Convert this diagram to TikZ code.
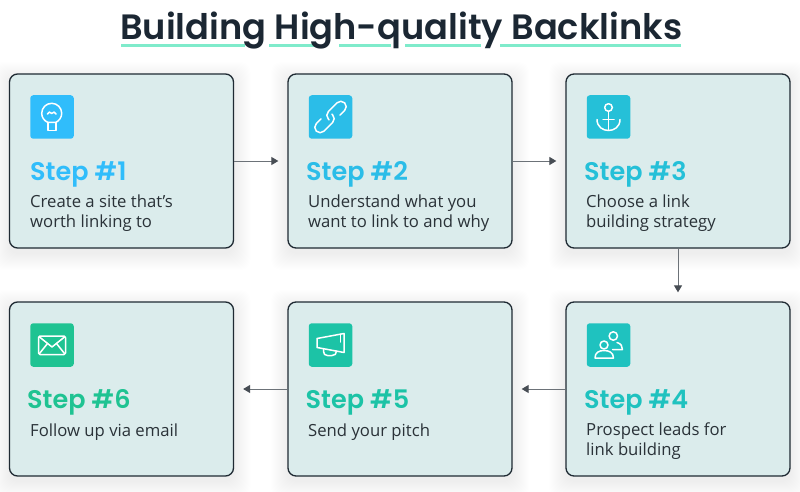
\documentclass[tikz,border=0pt]{standalone}
\usepackage{fontspec}
\setmainfont{Open Sans}
\newfontfamily\headfont{Poppins SemiBold}
\usetikzlibrary{arrows.meta}
\definecolor{cardfill}{HTML}{DBECEC}
\definecolor{cardline}{HTML}{1F2A33}
\definecolor{titleink}{HTML}{1B2733}
\definecolor{bodyink}{HTML}{2A3238}
\definecolor{mint}{HTML}{7FEBCB}
\definecolor{arrowline}{HTML}{6C7278}
\definecolor{arrowhead}{HTML}{474D54}
\definecolor{cA}{HTML}{30BDFB}
\definecolor{cB}{HTML}{2BBDE8}
\definecolor{cC}{HTML}{25C0D8}
\definecolor{cD}{HTML}{1FC2BF}
\definecolor{cE}{HTML}{1CC3A6}
\definecolor{cF}{HTML}{1FC392}
\newcommand{\softshadow}[2]{%
  \foreach \g in {17,16,...,1}{%
    \fill[black,opacity=0.0025,rounded corners=10pt]
      (#1-112-\g,#2-87-\g+5) rectangle (#1+112+\g,#2+87+\g+5);
  }%
}
\tikzset{
  x=1pt,y=-1pt,
  card/.style={rectangle,rounded corners=8pt,draw=cardline,fill=cardfill,line width=1.3pt,minimum width=224pt,minimum height=174pt,inner sep=0pt},
  iconbox/.style={rectangle,rounded corners=3pt,minimum width=43.5pt,minimum height=43.5pt,inner sep=0pt},
  glyph/.style={draw=white,line width=1.5pt,line cap=round,line join=round},
  steptext/.style={anchor=base west,inner sep=0pt,font=\headfont\fontsize{25.5}{30}\selectfont},
  bodytext/.style={anchor=base west,inner sep=0pt,font=\fontsize{16.7}{19.5}\selectfont,text=bodyink,align=left},
  flow/.style={draw=arrowline,line width=1pt,-{Triangle[length=7pt,width=8pt,color=arrowhead]}},
  under/.style={draw=mint,line width=3.6pt}
}
\begin{document}
\begin{tikzpicture}
\useasboundingbox (0,0) rectangle (800,492);
\fill[white] (0,0) rectangle (800,492);
% title underline
\foreach \a/\b in {121/245,269/315,339/391,405/481,500/681}{\draw[under] (\a,45.5) -- (\b,45.5);}
\node[anchor=base west,inner sep=0pt,text=titleink,font=\headfont\fontsize{35.2}{38}\selectfont] (title) at (120,40) {Building High-quality Backlinks};
% shadows
\softshadow{121.5}{161}\softshadow{400}{161}\softshadow{678}{161}
\softshadow{121.5}{389}\softshadow{400}{389}\softshadow{678}{389}
% cards
\node[card] (s1) at (121.5,161) {};
\node[card] (s2) at (400,161) {};
\node[card] (s3) at (678,161) {};
\node[card] (s4) at (678,389) {};
\node[card] (s5) at (400,389) {};
\node[card] (s6) at (121.5,389) {};
% connectors
\draw[flow,shorten >=9pt] (s1) -- (s2);
\draw[flow,shorten >=9pt] (s2) -- (s3);
\draw[flow,shorten >=9pt] (s3) -- (s4);
\draw[flow,shorten >=9pt] (s4) -- (s5);
\draw[flow,shorten >=9pt] (s5) -- (s6);
% icon tiles
\node[iconbox,fill=cA] (i1) at (52,117) {};
\node[iconbox,fill=cB] (i2) at (330.5,117) {};
\node[iconbox,fill=cC] (i3) at (608.5,117) {};
\node[iconbox,fill=cD] (i4) at (608.5,345) {};
\node[iconbox,fill=cE] (i5) at (330.5,345) {};
\node[iconbox,fill=cF] (i6) at (52,345) {};
% bulb
\draw[glyph] (47.8,122.4) .. controls (44.5,120.8) and (41.7,117.8) .. (41.7,113.3) .. controls (41.7,107.8) and (46.2,103.3) .. (51.7,103.3) .. controls (57.2,103.3) and (61.7,107.8) .. (61.7,113.3) .. controls (61.7,117.8) and (58.9,120.8) .. (55.8,122.4) -- cycle;
\draw[glyph] (47.8,122.4) -- (47.8,130.5) -- (55.8,130.5) -- (55.8,122.4);
\draw[glyph] (47.5,114) .. controls (48.5,111.5) and (50,111.5) .. (51.7,113.5) .. controls (53.4,111.5) and (55,111.5) .. (56,114);
% link
\begin{scope}[shift={(330.5,117)},rotate=45]
\draw[glyph,rounded corners=5.4pt] (8,5.4) -- (20,5.4) -- (20,-5.4) -- (-3,-5.4) -- (-3,1);
\draw[glyph,rounded corners=5.4pt] (-8,-5.4) -- (-20,-5.4) -- (-20,5.4) -- (3,5.4) -- (3,-1);
\end{scope}
% anchor
\draw[glyph] (608.5,107.5) circle[radius=3.8];
\draw[glyph] (608.5,111.3) -- (608.5,130.5);
\draw[glyph] (603,119.5) -- (614,119.5);
\draw[glyph] (597,119.5) .. controls (597,127) and (603,130.5) .. (608.5,130.5) .. controls (614,130.5) and (620,127) .. (620,119.5);
% people
\draw[glyph] (604,345) circle[radius=4];
\draw[glyph] (595,358) .. controls (595,352.5) and (599,350.5) .. (604,350.5) .. controls (609,350.5) and (613.5,352.5) .. (613.5,358) -- cycle;
\draw[glyph] (613.3,336) circle[radius=4.2];
\draw[glyph] (617,342.5) .. controls (621,343.5) and (622.5,346.5) .. (622.5,349.5) -- (612.5,349.5);
% megaphone
\draw[glyph] (317,338.5) -- (344,333.5) -- (344,352.5) -- (317,347.5) -- cycle;
\draw[glyph] (340.5,334.2) -- (340.5,342);
\draw[glyph] (323.5,349) -- (323.5,351.5) .. controls (323.5,354) and (325,355.5) .. (327.5,355.5) -- (332,355.5) .. controls (335,355.5) and (336.5,354) .. (336.5,351);
% mail
\draw[glyph,rounded corners=1.5pt] (38.5,336) rectangle (65.5,354.5);
\draw[glyph] (39.5,337) -- (52,347) -- (64.5,337);
\draw[glyph] (39.5,353.5) -- (47.5,343.5);
\draw[glyph] (64.5,353.5) -- (56.5,343.5);
% step headings
\node[steptext,text=cA] (h1) at (30,180) {Step \#1};
\node[steptext,text=cB] (h2) at (306,180) {Step \#2};
\node[steptext,text=cC] (h3) at (584,180) {Step \#3};
\node[steptext,text=cD] (h4) at (584,408) {Step \#4};
\node[steptext,text=cE] (h5) at (305.5,408) {Step \#5};
\node[steptext,text=cF] (h6) at (27,408) {Step \#6};
% bodies (base anchor of a two-line node is its last line)
\node[bodytext] (b1) at (30,227) {Create a site that’s\\worth linking to};
\node[bodytext] (b2) at (308,227) {Understand what you\\want to link to and why};
\node[bodytext] (b3) at (586,227) {Choose a link\\building strategy};
\node[bodytext] (b4) at (586,455) {Prospect leads for\\link building};
\node[bodytext] (b5) at (308,436) {Send your pitch};
\node[bodytext] (b6) at (30,436) {Follow up via email};
\end{tikzpicture}
\end{document}
